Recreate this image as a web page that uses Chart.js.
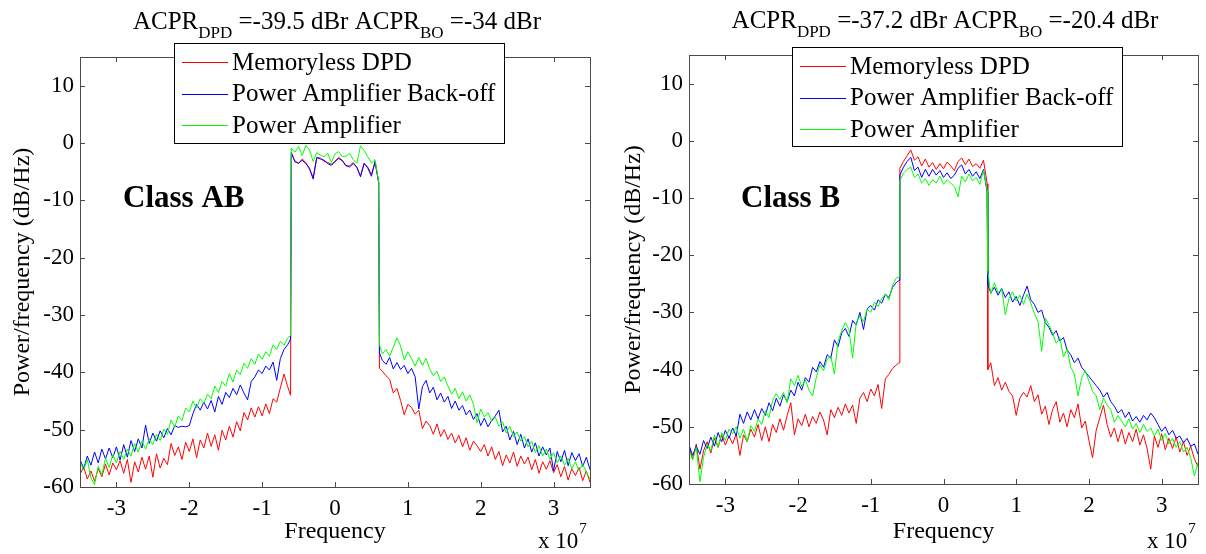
<!DOCTYPE html>
<html>
<head>
<meta charset="utf-8">
<script src="https://cdn.jsdelivr.net/npm/chart.js@4.4.0/dist/chart.umd.min.js"></script>
<style>
  body { margin: 0; background: #fff; }
  #wrap { position: relative; width: 1206px; height: 554px; }
  #wrap canvas { position: absolute; top: 0; }
</style>
</head>
<body>
<div id="wrap">
  <canvas id="classAB" width="603" height="554" style="left:0px"></canvas>
  <canvas id="classB" width="603" height="554" style="left:603px"></canvas>
</div>
<script>
// frequency grid, in units of 1e7 Hz
const freqLower = [-3.50,-3.45,-3.40,-3.35,-3.30,-3.25,-3.20,-3.15,-3.10,-3.05,
  -3.00,-2.95,-2.90,-2.85,-2.80,-2.75,-2.70,-2.65,-2.60,-2.55,
  -2.50,-2.45,-2.40,-2.35,-2.30,-2.25,-2.20,-2.15,-2.10,-2.05,
  -2.00,-1.95,-1.90,-1.85,-1.80,-1.75,-1.70,-1.65,-1.60,-1.55,
  -1.50,-1.45,-1.40,-1.35,-1.30,-1.25,-1.20,-1.15,-1.10,-1.05,
  -1.00,-0.95,-0.90,-0.85,-0.80,-0.75,-0.70,-0.65,-0.61];
const freqBand = [-0.60,-0.55,-0.50,-0.45,-0.40,-0.35,-0.30,-0.25,-0.20,-0.15,-0.10,-0.05,0,
  0.05,0.10,0.15,0.20,0.25,0.30,0.35,0.40,0.45,0.50,0.55,0.60];
const freqUpper = [0.61,0.65,0.70,0.75,0.80,0.85,0.90,0.95,1.00,1.05,
  1.10,1.15,1.20,1.25,1.30,1.35,1.40,1.45,1.50,1.55,
  1.60,1.65,1.70,1.75,1.80,1.85,1.90,1.95,2.00,2.05,
  2.10,2.15,2.20,2.25,2.30,2.35,2.40,2.45,2.50,2.55,
  2.60,2.65,2.70,2.75,2.80,2.85,2.90,2.95,3.00,3.05,
  3.10,3.15,3.20,3.25,3.30,3.35,3.40,3.45,3.50];
const freq = [...freqLower, ...freqBand, ...freqUpper];

const xTicks = [-3, -2, -1, 0, 1, 2, 3];
const yTicks = [-60, -50, -40, -30, -20, -10, 0, 10];

const seriesNames = ['Memoryless DPD', 'Power Amplifier Back-off', 'Power Amplifier'];
const seriesColors = ['#ff0000', '#0000ff', '#00ff00'];

// Class AB, dB/Hz
const abDpd = [
  -57.8,-56.5,-58.6,-57.2,-59.0,-56.8,-58.2,-56.0,-57.9,-55.8,
  -57.0,-55.4,-57.6,-55.2,-59.2,-55.6,-57.4,-54.8,-56.9,-54.6,
  -58.3,-54.2,-56.7,-55.0,-56.1,-52.4,-54.5,-53.0,-55.2,-52.2,
  -53.8,-51.6,-54.9,-51.8,-53.2,-50.6,-52.9,-50.9,-53.6,-50.1,
  -51.8,-49.4,-51.3,-48.6,-50.2,-47.0,-48.3,-46.2,-47.8,-46.0,
  -47.6,-45.5,-47.2,-44.6,-45.2,-42.7,-40.3,-42.5,-44.0,
  -1.9,-3.1,-3.6,-2.8,-3.4,-4.6,-6.0,-2.6,-2.6,-3.2,-3.4,-3.7,-3.3,
  -2.5,-3.0,-4.0,-4.0,-3.4,-4.3,-5.7,-3.6,-4.2,-5.5,-3.4,-6.8,
  -39.3,-39.8,-40.6,-41.2,-43.6,-42.8,-44.9,-47.4,-45.6,-46.1,
  -47.3,-46.6,-49.8,-48.5,-49.3,-50.8,-49.0,-51.2,-50.0,-51.7,
  -50.6,-52.3,-51.0,-53.0,-51.4,-53.6,-52.0,-52.8,-53.8,-52.6,
  -54.6,-53.0,-55.2,-53.8,-56.3,-54.4,-55.8,-53.9,-56.4,-54.6,
  -56.0,-54.8,-57.0,-55.2,-57.6,-55.6,-56.9,-55.4,-57.5,-56.1,
  -58.2,-56.4,-58.8,-56.8,-58.0,-56.6,-58.9,-57.2,-59.2];
const abBo = [
  -55.2,-56.8,-54.6,-56.2,-53.9,-55.8,-53.4,-55.1,-53.2,-54.9,
  -53.0,-55.3,-52.6,-54.8,-51.9,-53.8,-51.6,-53.2,-49.2,-52.4,
  -50.6,-52.0,-50.2,-51.4,-49.8,-50.9,-49.3,-49.6,-49.4,-49.5,
  -49.3,-47.2,-45.6,-46.6,-45.2,-46.4,-44.9,-46.9,-44.2,-45.6,
  -43.5,-44.4,-42.8,-43.9,-42.2,-43.6,-44.8,-41.6,-40.8,-39.6,
  -40.2,-38.9,-39.6,-38.2,-41.4,-37.6,-36.0,-35.2,-34.2,
  -1.6,-3.3,-3.5,-3.0,-3.6,-4.4,-6.3,-2.5,-2.8,-3.0,-3.6,-3.9,-3.2,
  -2.7,-3.1,-3.9,-4.2,-3.6,-4.2,-5.9,-3.5,-4.4,-5.8,-3.2,-7.0,
  -36.6,-37.9,-38.6,-37.4,-39.4,-38.3,-39.5,-38.8,-40.2,-39.3,
  -40.8,-46.4,-42.5,-41.4,-43.6,-42.6,-44.8,-43.6,-45.2,-44.2,
  -46.3,-45.0,-46.6,-45.8,-47.4,-46.6,-48.2,-47.2,-49.3,-48.0,
  -49.5,-48.4,-47.6,-46.6,-50.4,-49.4,-51.8,-50.3,-52.6,-50.8,
  -53.2,-51.6,-53.9,-52.3,-54.6,-53.0,-54.4,-53.2,-57.2,-53.8,
  -55.6,-53.6,-56.3,-54.0,-55.4,-54.2,-56.4,-54.8,-57.0];
const abPa = [
  -55.6,-57.0,-55.2,-58.4,-59.6,-56.4,-57.8,-55.0,-56.6,-54.4,
  -55.8,-53.8,-55.2,-53.4,-54.6,-52.4,-53.9,-52.0,-53.4,-51.6,
  -52.6,-50.8,-51.9,-49.9,-50.8,-48.3,-49.6,-47.6,-48.4,-46.2,
  -46.9,-45.0,-46.2,-44.6,-45.4,-43.8,-44.6,-42.4,-43.5,-41.6,
  -42.4,-40.2,-41.7,-39.6,-40.4,-38.4,-39.3,-37.6,-38.6,-36.8,
  -37.7,-36.4,-37.2,-35.2,-36.0,-34.6,-35.3,-34.0,-33.6,
  -0.9,-1.6,-0.6,-2.2,-0.4,-1.2,-3.2,-1.7,-2.1,-2.4,-1.8,-3.4,-1.9,
  -1.5,-2.4,-2.3,-1.8,-2.9,-3.5,-0.5,-1.3,-2.4,-3.5,-2.9,-6.8,
  -35.2,-36.8,-36.0,-37.2,-35.6,-34.0,-35.4,-37.8,-36.4,-37.6,
  -38.9,-37.4,-38.8,-37.6,-39.4,-40.6,-39.8,-41.6,-40.8,-42.4,
  -43.8,-42.8,-44.6,-43.4,-45.0,-43.9,-45.6,-48.8,-46.4,-47.8,
  -47.0,-48.6,-47.8,-49.4,-48.6,-50.6,-49.4,-51.2,-50.4,-52.0,
  -51.2,-53.0,-52.0,-54.0,-52.8,-54.6,-53.4,-55.2,-54.0,-55.8,
  -54.6,-56.2,-55.0,-56.8,-55.6,-57.2,-56.0,-57.4,-58.6];

// Class B, dB/Hz
const bDpd = [
  -53.4,-55.6,-53.0,-57.4,-54.2,-52.6,-54.6,-52.0,-53.6,-51.4,
  -53.2,-51.6,-53.0,-51.2,-55.0,-51.4,-52.6,-50.4,-51.8,-49.6,
  -52.4,-50.0,-52.6,-49.6,-51.0,-48.6,-50.6,-48.0,-45.8,-51.4,
  -48.6,-49.8,-47.8,-50.0,-48.2,-49.4,-47.4,-48.8,-51.4,-47.0,
  -48.4,-46.6,-48.0,-46.0,-47.6,-46.2,-49.4,-45.0,-44.0,-45.6,
  -43.4,-44.6,-42.6,-46.8,-41.6,-40.8,-39.8,-39.2,-38.8,
  -4.8,-3.6,-2.6,-1.6,-3.4,-2.8,-4.4,-3.2,-4.6,-3.8,-5.0,-4.0,-4.9,
  -3.7,-4.4,-5.2,-3.6,-3.0,-4.2,-3.2,-4.5,-4.0,-4.8,-3.4,-7.5,
  -40.0,-38.8,-42.8,-41.4,-43.6,-42.2,-43.8,-44.6,-48.0,-45.0,
  -44.0,-44.8,-42.8,-45.6,-44.4,-47.8,-46.4,-49.6,-47.0,-45.6,
  -49.2,-47.6,-50.0,-47.0,-48.4,-46.0,-50.2,-49.0,-52.4,-55.4,
  -50.6,-48.4,-46.2,-49.6,-51.8,-50.2,-52.6,-50.4,-53.0,-51.0,
  -52.6,-50.4,-53.2,-51.4,-53.8,-57.4,-51.6,-53.6,-51.2,-54.0,
  -52.0,-53.8,-51.8,-54.4,-52.6,-55.0,-53.4,-55.6,-57.0];
const bBo = [
  -53.2,-55.0,-53.4,-54.8,-52.4,-53.8,-51.8,-53.4,-51.0,-52.6,
  -50.6,-52.0,-50.2,-51.6,-47.8,-49.4,-47.4,-48.8,-47.0,-48.6,
  -46.8,-48.0,-45.8,-47.2,-45.0,-46.4,-44.4,-45.6,-43.6,-44.6,
  -42.2,-43.6,-41.4,-42.2,-39.6,-40.4,-38.6,-39.6,-37.4,-38.0,
  -34.8,-36.0,-33.6,-32.8,-34.2,-31.4,-32.2,-30.0,-33.0,-29.4,
  -28.8,-29.6,-27.8,-28.4,-26.8,-27.4,-25.6,-24.8,-24.4,
  -6.0,-4.6,-3.6,-2.9,-5.2,-4.6,-6.4,-5.0,-6.2,-5.0,-6.0,-5.2,-6.4,
  -5.6,-6.6,-6.0,-4.8,-4.2,-5.8,-5.0,-6.2,-5.4,-6.6,-5.0,-9.0,
  -25.2,-26.6,-25.6,-27.0,-25.8,-27.4,-26.4,-28.2,-27.2,-28.8,
  -27.0,-25.4,-27.8,-28.6,-30.0,-29.6,-31.8,-32.6,-34.0,-33.2,
  -35.0,-34.4,-36.6,-37.4,-38.8,-38.0,-39.6,-40.4,-41.2,-42.0,
  -42.8,-43.6,-44.8,-44.0,-45.6,-46.4,-47.6,-47.0,-48.4,-47.4,
  -49.0,-48.2,-49.2,-48.0,-48.8,-47.6,-48.4,-49.6,-50.8,-50.0,
  -51.4,-50.6,-52.0,-51.6,-52.8,-52.0,-53.4,-53.0,-54.8];
const bPa = [
  -54.0,-55.8,-53.6,-59.6,-55.4,-53.0,-54.2,-51.4,-53.6,-51.0,
  -52.4,-50.4,-51.2,-50.0,-52.0,-50.4,-52.6,-49.8,-50.8,-48.6,
  -49.6,-47.2,-48.4,-45.4,-44.2,-45.2,-44.0,-45.8,-41.6,-42.8,
  -41.0,-43.0,-41.8,-43.6,-44.6,-41.4,-39.2,-40.2,-38.2,-37.6,
  -40.8,-35.0,-33.2,-31.8,-33.0,-38.0,-31.8,-30.6,-31.6,-29.4,
  -30.0,-28.2,-29.0,-27.6,-26.8,-27.8,-25.2,-24.0,-23.8,
  -7.0,-5.6,-5.0,-4.6,-6.4,-5.8,-7.4,-6.6,-7.8,-6.8,-7.4,-6.2,-7.6,
  -6.8,-7.4,-8.0,-9.8,-6.2,-7.2,-5.8,-7.0,-6.4,-7.6,-5.2,-8.6,
  -22.8,-26.8,-24.8,-26.6,-25.8,-30.4,-27.6,-26.4,-28.0,-27.0,
  -28.6,-26.8,-28.4,-30.2,-31.6,-36.8,-31.0,-32.2,-33.6,-35.4,
  -34.4,-37.8,-36.4,-39.6,-40.8,-44.6,-41.4,-40.2,-42.0,-43.8,
  -44.6,-47.0,-45.0,-46.2,-47.0,-49.2,-48.0,-49.0,-50.0,-48.6,
  -50.4,-49.4,-51.0,-49.6,-50.8,-50.2,-51.6,-50.4,-52.4,-51.2,
  -53.0,-52.0,-53.6,-52.6,-54.4,-53.6,-55.4,-58.6,-56.2];

const SERIF = "'Liberation Serif', 'Times New Roman', serif";
Chart.defaults.font.family = SERIF;
Chart.defaults.color = '#000';

// MATLAB-style box, inward ticks, legend, title and labels
const matlabAxes = {
  id: 'matlabAxes',
  afterDatasetsDraw(chart, args, o) {
    const { ctx, chartArea: a, scales } = chart;
    ctx.save();
    ctx.strokeStyle = '#4a4a4a';
    ctx.lineWidth = 1;
    ctx.beginPath();
    scales.x.ticks.forEach(t => {
      const px = Math.round(scales.x.getPixelForValue(t.value)) + 0.5;
      ctx.moveTo(px, a.bottom); ctx.lineTo(px, a.bottom - 5);
      ctx.moveTo(px, a.top); ctx.lineTo(px, a.top + 5);
    });
    scales.y.ticks.forEach(t => {
      const py = Math.round(scales.y.getPixelForValue(t.value)) + 0.5;
      ctx.moveTo(a.left, py); ctx.lineTo(a.left + 5, py);
      ctx.moveTo(a.right, py); ctx.lineTo(a.right - 5, py);
    });
    ctx.stroke();
    ctx.strokeRect(Math.round(a.left) + 0.5, Math.round(a.top) + 0.5,
      Math.round(a.right - a.left), Math.round(a.bottom - a.top));
    ctx.restore();
  },
  afterDraw(chart, args, o) {
    const ctx = chart.ctx;
    ctx.save();
    ctx.fillStyle = '#000';
    ctx.textBaseline = 'alphabetic';

    // title with subscripts
    const main = '25px ' + SERIF, sub = '17px ' + SERIF;
    const parts = [['ACPR', main, 0], ['DPD', sub, 9], [' =' + o.acprDpd + ' dBr ACPR', main, 0],
      ['BO', sub, 9], [' =' + o.acprBo + ' dBr', main, 0]];
    let total = 0;
    parts.forEach(p => { ctx.font = p[1]; total += ctx.measureText(p[0]).width; });
    let tx = o.titleX - total / 2;
    ctx.textAlign = 'left';
    parts.forEach(p => {
      ctx.font = p[1];
      ctx.fillText(p[0], tx, o.titleY + p[2]);
      tx += ctx.measureText(p[0]).width;
    });

    // class label
    ctx.font = 'bold 31px ' + SERIF;
    ctx.fillText(o.classLabel, o.classX, o.classY);

    // exponent label
    ctx.font = '23px ' + SERIF;
    ctx.fillText('x 10', o.expX, 548);
    const w = ctx.measureText('x 10').width;
    ctx.font = '15px ' + SERIF;
    ctx.fillText('7', o.expX + w + 1, 533);

    // legend box
    const L = o.legend;
    ctx.fillStyle = '#fff';
    ctx.fillRect(L.x, L.y, L.w, L.h);
    ctx.strokeStyle = '#000';
    ctx.lineWidth = 1;
    ctx.strokeRect(L.x + 0.5, L.y + 0.5, L.w, L.h);
    ctx.font = '25px ' + SERIF;
    ctx.textBaseline = 'middle';
    chart.data.datasets.forEach((ds, i) => {
      const y = L.y + 19 + i * 31.5;
      ctx.strokeStyle = ds.borderColor;
      ctx.beginPath();
      ctx.moveTo(L.x + 8, Math.round(y) + 0.5);
      ctx.lineTo(L.x + 54, Math.round(y) + 0.5);
      ctx.stroke();
      ctx.fillStyle = '#000';
      ctx.fillText(ds.label, L.x + 58, y + 1);
    });
    ctx.restore();
  }
};

function makePanel(id, values, opts) {
  const datasets = values.map((vals, i) => ({
    label: seriesNames[i],
    data: freq.map((f, k) => ({ x: f, y: vals[k] })),
    borderColor: seriesColors[i],
    borderWidth: 1,
    pointRadius: 0,
    tension: 0,
    order: 2 - i
  }));
  return new Chart(document.getElementById(id), {
    type: 'line',
    data: { datasets },
    options: {
      responsive: false,
      animation: false,
      events: [],
      layout: { padding: { left: 0, right: opts.padRight, top: opts.padTop, bottom: 0 } },
      plugins: { legend: { display: false }, tooltip: { enabled: false }, matlabAxes: opts },
      scales: {
        x: {
          type: 'linear', min: -3.5, max: 3.5,
          ticks: { padding: 8, font: { size: 23 }, color: '#000', maxRotation: 0, autoSkip: false, callback: v => String(v) },
          grid: { display: false, drawTicks: false },
          border: { display: false },
          afterBuildTicks: s => { s.ticks = xTicks.map(v => ({ value: v })); },
          afterFit: s => { s.height = opts.xAxisHeight; },
          title: { display: true, text: 'Frequency', font: { size: 24 }, color: '#000', padding: { top: 0, bottom: 8 } }
        },
        y: {
          min: -60, max: 15,
          ticks: { padding: 6, font: { size: 23 }, color: '#000', autoSkip: false, callback: v => String(v) },
          grid: { display: false, drawTicks: false },
          border: { display: false },
          afterBuildTicks: s => { s.ticks = yTicks.map(v => ({ value: v })); },
          afterFit: s => { s.width = opts.yAxisWidth; },
          title: { display: true, text: 'Power/frequency (dB/Hz)', font: { size: 24 }, color: '#000', padding: { top: opts.yTitlePad, bottom: 0 } }
        }
      }
    },
    plugins: [matlabAxes]
  });
}

makePanel('classAB', [abDpd, abBo, abPa], {
  yAxisWidth: 80, padRight: 13, padTop: 57, xAxisHeight: 67, yTitlePad: 8,
  acprDpd: '-39.5', acprBo: '-34', titleX: 337, titleY: 29,
  classLabel: 'Class AB', classX: 123, classY: 207, expX: 538,
  legend: { x: 174, y: 43, w: 330, h: 100 }
});
makePanel('classB', [bDpd, bBo, bPa], {
  yAxisWidth: 86, padRight: 8, padTop: 55, xAxisHeight: 70, yTitlePad: 16,
  acprDpd: '-37.2', acprBo: '-20.4', titleX: 342, titleY: 28,
  classLabel: 'Class B', classX: 138, classY: 207, expX: 544,
  legend: { x: 189, y: 47, w: 330, h: 99 }
});
</script>
</body>
</html>
